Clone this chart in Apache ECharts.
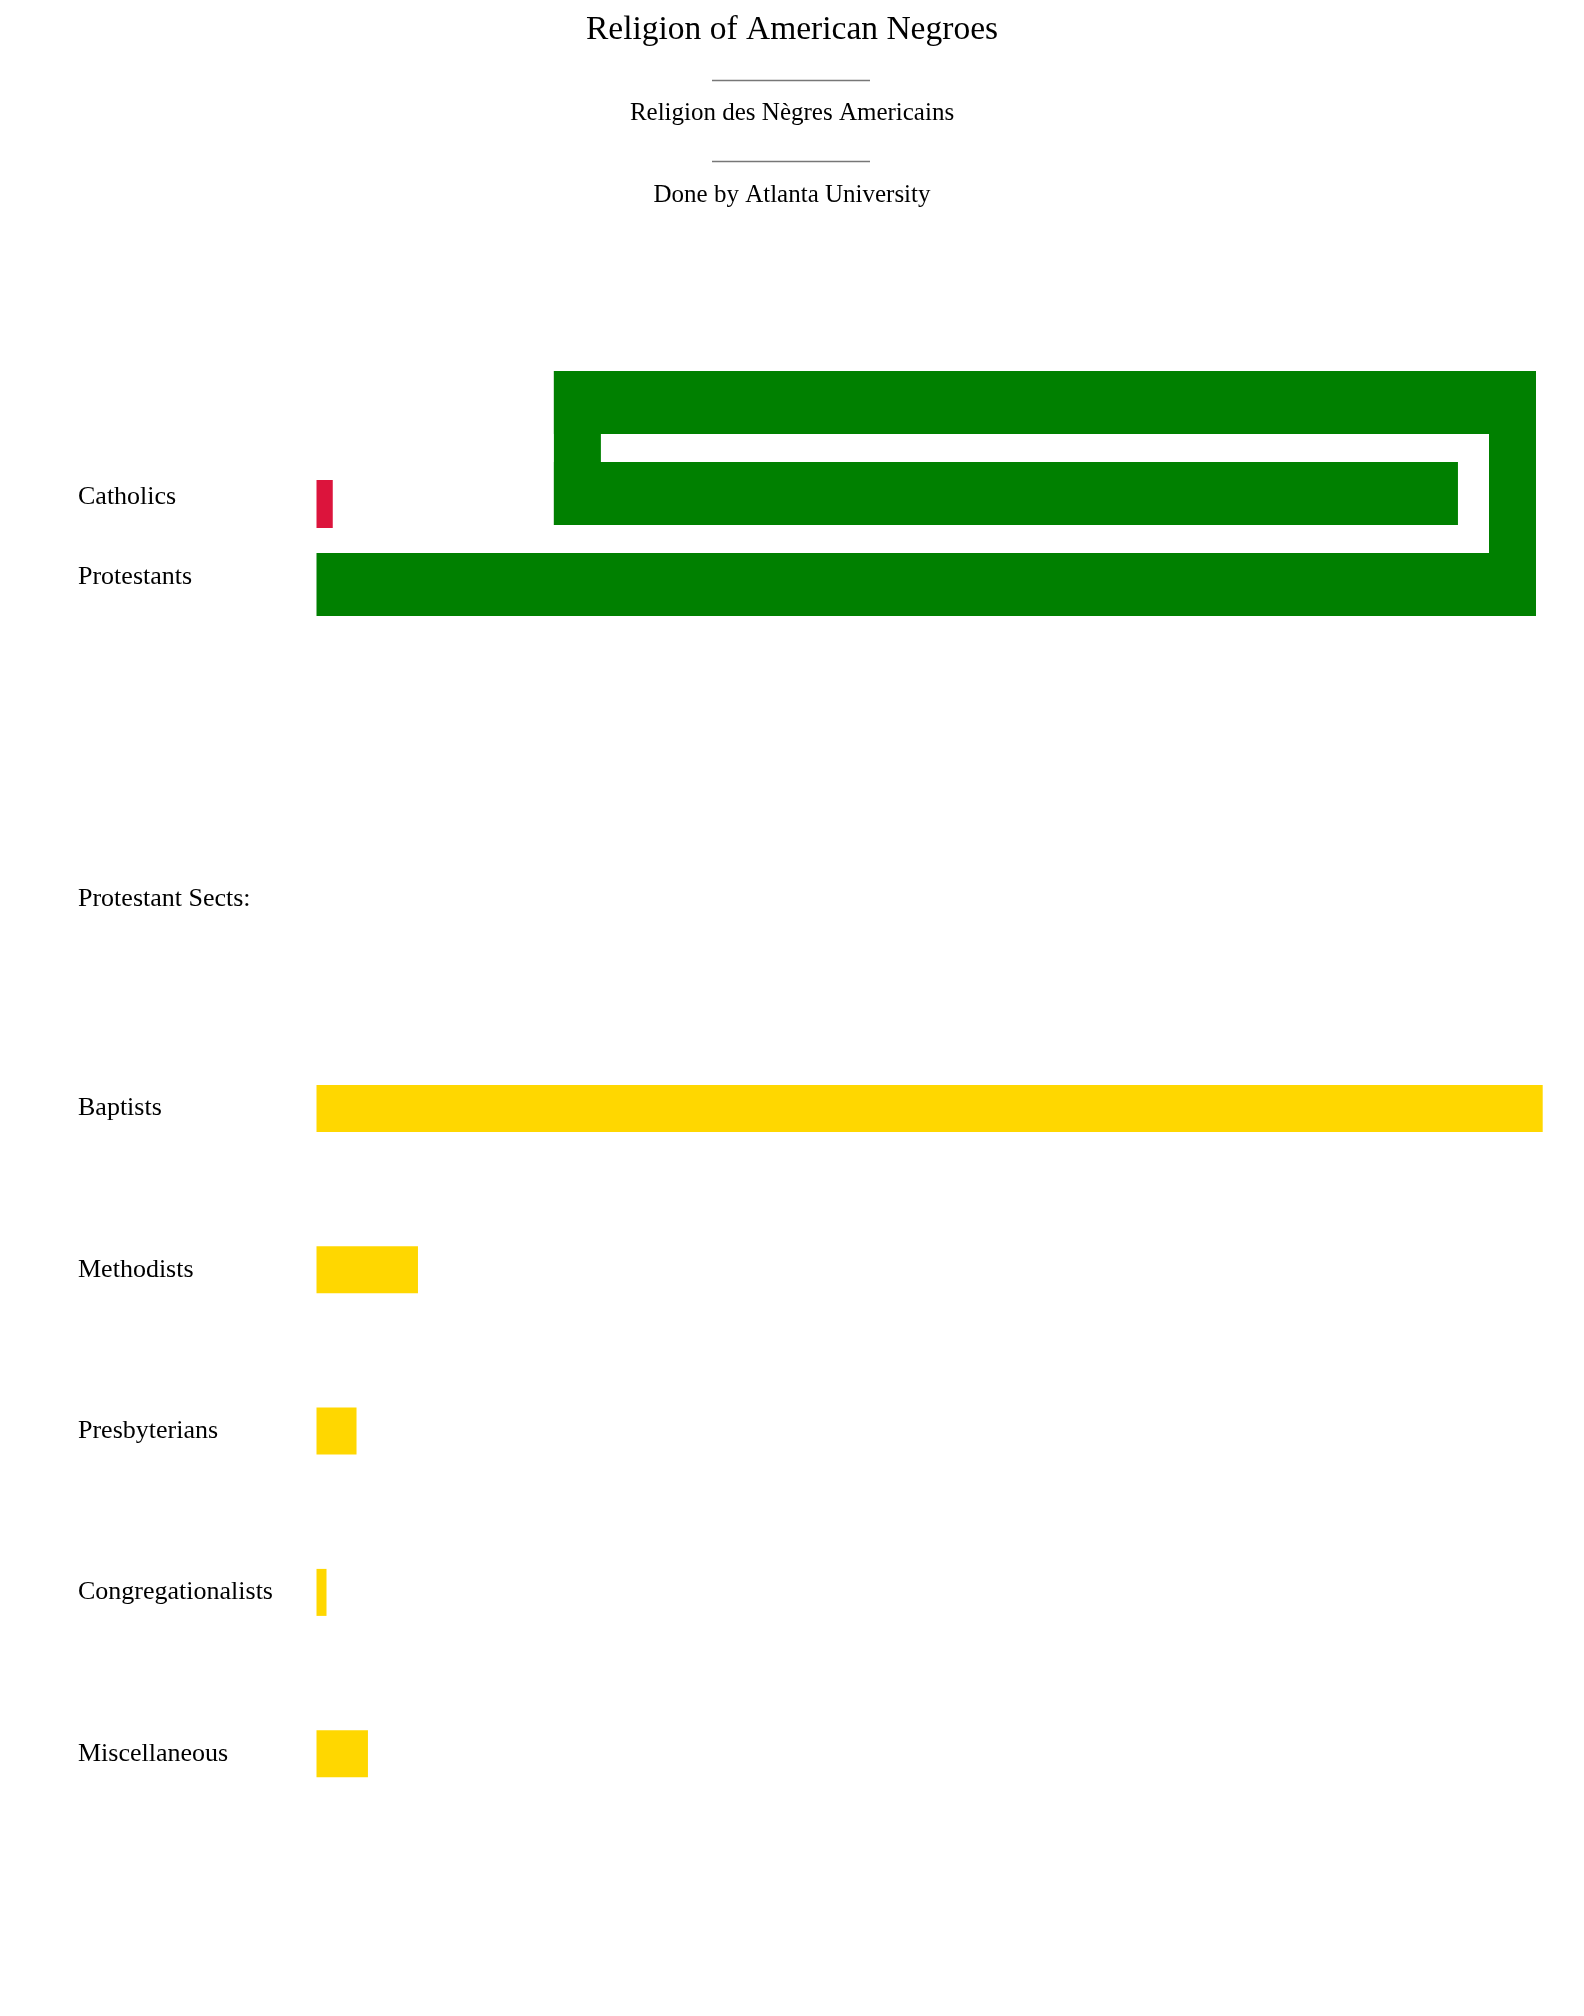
<!DOCTYPE html>
<html>
<head>
<meta charset="utf-8">
<title>Religion of American Negroes</title>
<script src="https://cdn.jsdelivr.net/npm/echarts@6/dist/echarts.min.js"></script>
<style>
    html, body { margin: 0; padding: 0; background: #fff; }
    #religion_chart { width: 1584px; height: 2016px; }
</style>
</head>
<body>
<div id="religion_chart"></div>
<script>
/* ------------------------------------------------------------------------------
 *
 *  # Religion of American Negroes - bars with a wrapped (spiral) bar
 *
 * ---------------------------------------------------------------------------- */


// Chart data
// ------------------------------

var mainCategories = ['Catholics', 'Protestants'];
var mainValues = [20, 3820];            // thousands
var mainAxisMax = 1500;                 // value filling one row of the spiral
var spiralTurn = 292;                   // value where the spiral turns down

var sectCategories = ['Baptists', 'Methodists', 'Presbyterians', 'Congregationalists', 'Miscellaneous'];
var sectValues = [85.8, 7.1, 2.8, 0.7, 3.6];    // percent of protestants

var titleLines = ['Religion of American Negroes', 'Religion des Nègres Americains', 'Done by Atlanta University'];
var sectsHeading = 'Protestant Sects:';


// Setup module
// ------------------------------

var EchartsReligionSpiral = function() {

    var FONT = '"Liberation Serif", "DejaVu Serif", serif';

    // Spiral renderer for the protestants bar
    var renderSpiral = function(params, api) {
        var row = api.value(1);
        var origin = api.coord([0, row]);
        var x0 = origin[0];
        var yc = origin[1];
        var xRight = api.coord([mainAxisMax, row])[0];
        var xTurn = api.coord([spiralTurn, row])[0];
        var length = api.value(0) * (xRight - x0) / mainAxisMax;

        var thick = 63, side = 47, pitch = 91;
        var style = api.style({ fill: '#008000', stroke: null });
        var children = [];
        var rect = function(x, y, w, h) {
            children.push({ type: 'rect', shape: { x: x, y: y, width: w, height: h }, style: style });
        };

        // bottom row
        var run = Math.min(length, xRight - x0);
        rect(x0, yc - thick / 2, run, thick);
        var rest = length - run;

        if (rest > 0) {
            // up the right side, then back along the top row
            var yTop = yc - 2 * pitch;
            rect(xRight - side, yTop - thick / 2, side, 2 * pitch + thick);
            run = Math.min(rest, xRight - xTurn);
            rect(xRight - run, yTop - thick / 2, run, thick);
            rest -= run;

            if (rest > 0) {
                // down the left side, then along the middle row
                var yMid = yc - pitch;
                rect(xTurn, yTop - thick / 2, side, pitch + thick);
                rect(xTurn, yMid - thick / 2, rest, thick);
            }
        }
        return { type: 'group', children: children };
    };

    var _religionChart = function() {
        if (typeof echarts == 'undefined') {
            console.warn('Warning - echarts.min.js is not loaded.');
            return;
        }

        // Define element
        var religion_element = document.getElementById('religion_chart');

        if (religion_element) {

            // Initialize chart
            var religion_chart = echarts.init(religion_element);

            var axisLabelStyle = {
                color: '#000',
                fontFamily: FONT,
                fontSize: 26,
                align: 'left',
                margin: 238.5
            };

            var textEl = function(text, y, size) {
                return {
                    type: 'text',
                    x: 792,
                    y: y,
                    style: {
                        text: text,
                        font: size + 'px ' + FONT,
                        fill: '#000',
                        align: 'center',
                        verticalAlign: 'middle',
                        textAlign: 'center',
                        textVerticalAlign: 'middle'
                    }
                };
            };

            var ruleEl = function(y) {
                return {
                    type: 'line',
                    shape: { x1: 712, y1: y, x2: 870, y2: y },
                    style: { stroke: '#777', lineWidth: 1.4 }
                };
            };

            // Options
            religion_chart.setOption({

                animation: false,

                textStyle: {
                    fontFamily: FONT
                },

                // Title block and section heading
                graphic: [
                    textEl(titleLines[0], 30.5, 33.5),
                    ruleEl(80.5),
                    textEl(titleLines[1], 113, 25),
                    ruleEl(161.5),
                    textEl(titleLines[2], 195.5, 25),
                    {
                        type: 'text',
                        x: 78,
                        y: 899,
                        style: {
                            text: sectsHeading,
                            font: '26px ' + FONT,
                            fill: '#000',
                            align: 'left',
                            verticalAlign: 'middle',
                            textAlign: 'left',
                            textVerticalAlign: 'middle'
                        }
                    }
                ],

                // Setup grids
                grid: [
                    { left: 316.5, right: 48, top: 463.75, height: 161 },
                    { left: 316.5, right: 41.3, top: 1027.85, height: 806.5 }
                ],

                // Horizontal axes
                xAxis: [
                    { gridIndex: 0, type: 'value', min: 0, max: mainAxisMax, show: false },
                    { gridIndex: 1, type: 'value', min: 0, max: 'dataMax', show: false }
                ],

                // Vertical axes
                yAxis: [
                    {
                        gridIndex: 0,
                        type: 'category',
                        inverse: true,
                        data: mainCategories,
                        axisLine: { show: false },
                        axisTick: { show: false },
                        axisLabel: Object.assign({ verticalAlign: 'bottom', lineHeight: 14 }, axisLabelStyle)
                    },
                    {
                        gridIndex: 1,
                        type: 'category',
                        inverse: true,
                        data: sectCategories,
                        axisLine: { show: false },
                        axisTick: { show: false },
                        axisLabel: axisLabelStyle
                    }
                ],

                // Add series
                series: [
                    {
                        name: 'Catholics',
                        type: 'bar',
                        xAxisIndex: 0,
                        yAxisIndex: 0,
                        barWidth: 48,
                        itemStyle: { color: '#DC143C' },
                        data: [mainValues[0], '-']
                    },
                    {
                        name: 'Protestants',
                        type: 'custom',
                        xAxisIndex: 0,
                        yAxisIndex: 0,
                        itemStyle: { color: '#008000' },
                        renderItem: renderSpiral,
                        encode: { x: 0, y: 1 },
                        data: [[mainValues[1], 1]]
                    },
                    {
                        name: 'Sects',
                        type: 'bar',
                        xAxisIndex: 1,
                        yAxisIndex: 1,
                        barWidth: 47,
                        itemStyle: { color: '#FFD700' },
                        data: sectValues
                    }
                ]
            });
        }
    };

    return {
        init: function() {
            _religionChart();
        }
    }
}();


// Initialize module
// ------------------------------

document.addEventListener('DOMContentLoaded', function() {
    EchartsReligionSpiral.init();
});
</script>
</body>
</html>
